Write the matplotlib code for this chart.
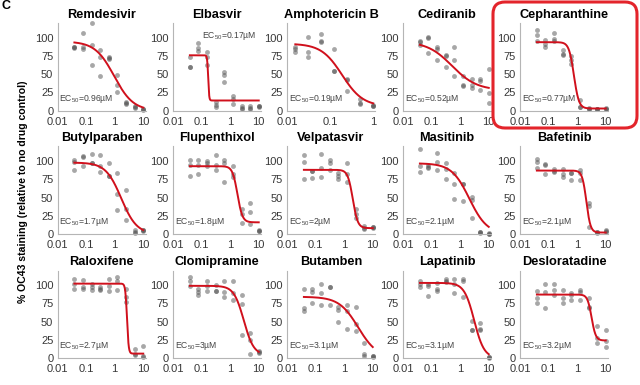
import numpy as np
import matplotlib.pyplot as plt
from matplotlib.patches import FancyBboxPatch

plt.rcParams['font.family'] = ['Liberation Sans', 'DejaVu Sans']
plt.rcParams['mathtext.fontset'] = 'custom'
plt.rcParams['mathtext.rm'] = 'Liberation Sans'
plt.rcParams['mathtext.it'] = 'Liberation Sans:italic'

# 2-fold dilution series (uM)
conc = [0.039, 0.078, 0.156, 0.3125, 0.625, 1.25, 2.5, 5, 10]
conc_amph = [0.0156, 0.03125, 0.0625, 0.125, 0.25, 0.5, 1]

drugs = ['Remdesivir', 'Elbasvir', 'Amphotericin B', 'Cediranib', 'Cepharanthine',
         'Butylparaben', 'Flupenthixol', 'Velpatasvir', 'Masitinib', 'Bafetinib',
         'Raloxifene', 'Clomipramine', 'Butamben', 'Lapatinib', 'Desloratadine']

# fitted 4PL params
ec50 = [0.96, 0.17, 0.19, 0.52, 0.77, 1.7, 1.8, 2, 2.1, 2.1, 2.7, 3, 3.1, 3.1, 3.2]
top = [95, 76, 92, 95, 94, 98, 93, 88, 97, 87, 102, 99, 84, 103, 87]
bottom = [0, 14, 6, 28, 3, 0, 16, 8, 0, 2, 6, 4, 0, 0, 24]
hill = [1.3, 25, 1.8, 1.0, 5, 1.6, 5, 5, 1.4, 6, 15, 2.5, 1.3, 2.5, 6]

# replicates (% staining), one row per concentration
remdesivir = [[87, 86, 88], [106, 88, 85], [120, 62, 90], [83, 74, 47], [73, 72, 71],
              [49, 35, 25], [10, 9, 12], [6, 4, 5], [2, 1, 3]]
elbasvir = [[73, 60, 60], [93, 86, 82], [80, 73, 62], [12, 8, 5], [53, 49, 39],
            [20, 16, 9], [6, 4, 2], [6, 4, 2], [6, 5, 6]]
amphotericin = [[87, 84, 80], [101, 80, 74], [105, 95, 94], [84, 55, 54], [43, 42, 27],
                [16, 11, 9], [8, 7, 6]]
cediranib = [[95, 94, 90], [101, 100, 79], [88, 84, 70], [76, 75, 60], [88, 70, 47],
             [48, 35, 34], [44, 35, 31], [44, 41, 29], [57, 24, 10]]
cepharanthine = [[110, 104, 95], [97, 92, 88], [107, 98, 95], [83, 78, 76], [75, 70, 64],
                 [15, 5, 5], [4, 3, 2], [2, 2, 3], [4, 3, 3]]
butylparaben = [[101, 99, 88], [107, 105, 93], [110, 98, 97], [108, 93, 85], [97, 80, 79],
                [83, 55, 33], [61, 34, 19], [6, 3, 2], [5, 4, 5]]
flupenthixol = [[102, 95, 80], [102, 95, 82], [100, 98, 93], [108, 95, 88], [102, 97, 71],
                [93, 82, 78], [34, 27, 15], [43, 30, 14], [4, 4, 5]]
velpatasvir = [[108, 99, 76], [87, 86, 77], [110, 91, 78], [102, 98, 88], [83, 79, 75],
               [98, 82, 72], [34, 27, 22], [11, 8, 7], [10, 8, 9]]
masitinib = [[116, 93, 85], [94, 92, 91], [111, 99, 88], [98, 89, 76], [83, 68, 48],
             [69, 68, 45], [51, 47, 22], [3, 3, 2], [0, 1, 0]]
bafetinib = [[103, 99, 91], [96, 95, 82], [89, 86, 85], [89, 82, 78], [83, 83, 74],
             [88, 84, 74], [42, 39, 10], [3, 2, 3], [6, 4, 3]]
raloxifene = [[108, 102, 94], [107, 97, 94], [102, 98, 93], [97, 94, 93], [108, 99, 92],
              [111, 106, 93], [95, 83, 77], [12, 6, 4], [16, 3, 2]]
clomipramine = [[111, 105, 99], [94, 90, 86], [106, 99, 92], [100, 92, 92], [106, 91, 83],
                [106, 89, 79], [86, 74, 32], [34, 25, 6], [9, 7, 8]]
butamben = [[94, 68, 65], [95, 90, 76], [101, 89, 73], [98, 97, 73], [70, 66, 49],
            [73, 64, 40], [70, 47, 37], [20, 6, 3], [3, 2, 3]]
lapatinib = [[105, 101, 98], [101, 99, 85], [103, 95, 92], [108, 105, 104], [108, 101, 89],
             [108, 105, 84], [51, 39, 38], [48, 40, 39], [1, 1, 0]]
desloratadine = [[92, 82, 76], [101, 90, 68], [102, 93, 86], [93, 82, 76], [89, 87, 79],
                 [93, 91, 80], [82, 70, 68], [44, 27, 20], [39, 23, 15]]

replicates = [remdesivir, elbasvir, amphotericin, cediranib, cepharanthine,
              butylparaben, flupenthixol, velpatasvir, masitinib, bafetinib,
              raloxifene, clomipramine, butamben, lapatinib, desloratadine]


def logistic(x, t, b, e, h):
    return b + (t - b) / (1 + (x / e) ** h)


fig = plt.figure(figsize=(6.4, 3.85), dpi=100)

lefts = [57.5, 173, 287, 403, 520]
bottoms = [274.3, 151, 27]
W, H = 88, 87.5

for i, name in enumerate(drugs):
    r, c = divmod(i, 5)
    ax = fig.add_axes([lefts[c] / 640, bottoms[r] / 385, W / 640, H / 385])
    x = conc_amph if name == 'Amphotericin B' else conc
    reps = replicates[i]
    for xi, ys in zip(x, reps):
        ax.plot([xi] * len(ys), ys, 'o', color='#505050', alpha=0.5,
                markersize=3.5, markeredgewidth=0, clip_on=False, zorder=2)
    xx = np.logspace(np.log10(x[0]), np.log10(x[-1]), 400)
    ax.plot(xx, logistic(xx, top[i], bottom[i], ec50[i], hill[i]),
            color='#d0101c', lw=1.4, zorder=3)

    ax.set_xscale('log')
    if name == 'Amphotericin B':
        ax.set_xlim(0.01, 1.1)
        ax.set_xticks([0.01, 0.1, 1])
        ax.set_xticklabels(['0.01', '0.1', '1'])
    else:
        ax.set_xlim(0.01, 12)
        ax.set_xticks([0.01, 0.1, 1, 10])
        ax.set_xticklabels(['0.01', '0.1', '1', '10'])
    ax.minorticks_off()
    ax.set_ylim(0, 120)
    ax.set_yticks([0, 25, 50, 75, 100])
    ax.tick_params(length=0, labelsize=8, colors='#383838')
    ax.tick_params(axis='x', pad=4.5)
    ax.tick_params(axis='y', pad=3)
    for s in ['top', 'right']:
        ax.spines[s].set_visible(False)
    for s in ['left', 'bottom']:
        ax.spines[s].set_color('#b5b5b5')
        ax.spines[s].set_linewidth(0.8)
    ax.patch.set_alpha(0)
    ax.set_title(name, fontsize=9.2, fontweight='bold', pad=4)

    label = 'EC$_{50}$=%gµM' % ec50[i]
    if name == 'Elbasvir':
        ax.text(0.33, 102, label, transform=ax.get_yaxis_transform(),
                fontsize=6.2, color='#444444', ha='left', va='center')
    else:
        ax.text(0.02, 16, label, transform=ax.get_yaxis_transform(),
                fontsize=6.2, color='#444444', ha='left', va='center')

# overlay in pixel units for panel letter, shared y label and highlight box
ov = fig.add_axes([0, 0, 1, 1])
ov.set_xlim(0, 640)
ov.set_ylim(385, 0)
ov.axis('off')
ov.text(1, 6, 'C', fontsize=9, fontweight='bold', ha='left', va='center')
ov.text(23, 192, '% OC43 staining (relative to no drug control)', rotation=90,
        fontsize=7.6, fontweight='bold', ha='center', va='center')
ov.add_patch(FancyBboxPatch((493, 2), 144, 126, boxstyle='round,pad=0,rounding_size=12',
                            fill=False, edgecolor='#e3242b', lw=2.2))

fig.savefig('out.png', dpi=100)
